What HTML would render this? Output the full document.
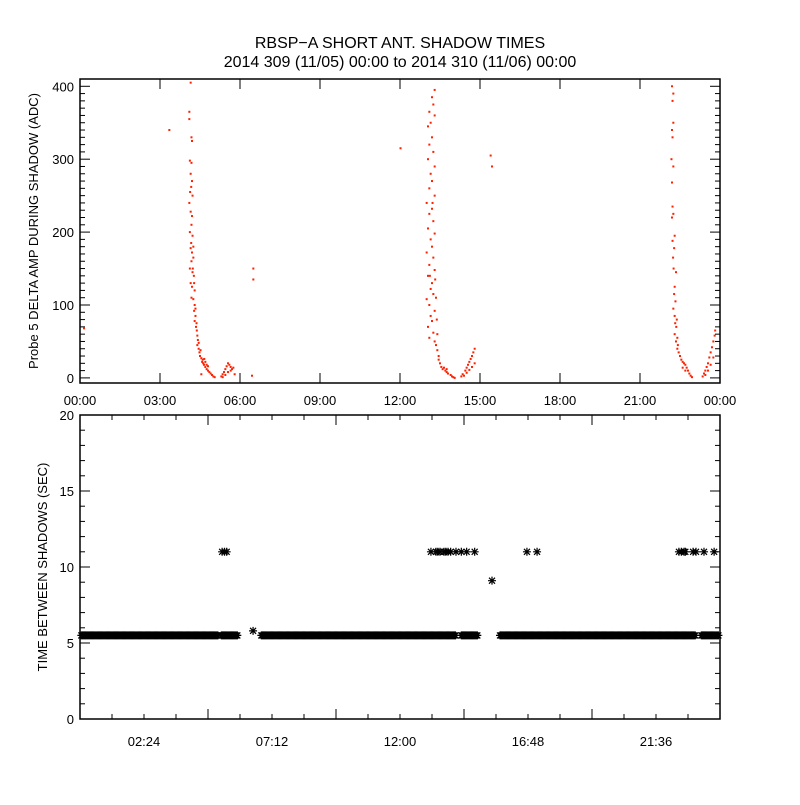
<!DOCTYPE html>
<html><head><meta charset="utf-8"><style>
body{margin:0;background:#fff}
svg text{font-family:"Liberation Sans",sans-serif;fill:#000}
</style></head><body>
<svg id="c" width="800" height="800" xmlns="http://www.w3.org/2000/svg">
<rect width="800" height="800" fill="#fff"/>
<text x="400" y="48" font-size="16" text-anchor="middle">RBSP−A SHORT ANT. SHADOW TIMES</text>
<text x="400" y="67" font-size="16" text-anchor="middle">2014 309 (11/05) 00:00 to 2014 310 (11/06) 00:00</text>
<g id="top"></g>
<g id="bot"></g>
<text transform="translate(38,231) rotate(-90)" font-size="13" text-anchor="middle">Probe 5 DELTA AMP DURING SHADOW (ADC)</text>
<text transform="translate(47,567) rotate(-90)" font-size="13" text-anchor="middle">TIME BETWEEN SHADOWS (SEC)</text>
</svg>
<script>
// top panel data: [hour, ADC]
const ampPoints = [
[0.15,68],[3.35,340],[6.5,150],[6.5,135],[6.45,3],[12.02,315],[15.4,305],[15.45,290],
[4.15,405],[4.1,365],[4.1,355],[4.18,330],[4.2,325],[4.12,298],[4.18,295],[4.15,280],[4.2,270],[4.17,262],[4.13,255],[4.22,250],[4.1,240],[4.15,228],[4.2,222],[4.18,210],[4.12,200],[4.22,195],[4.17,185],[4.15,178],[4.2,172],[4.25,165],[4.18,160],[4.12,150],[4.22,145],[4.27,140],[4.15,130],[4.2,125],[4.3,120],[4.18,110],[4.25,108],[4.3,100],[4.28,92],[4.33,85],[4.3,78],[4.35,70],[4.38,65],[4.4,58],[4.42,52],[4.4,45],[4.45,40],[4.48,35],[4.5,30],[4.55,27],[4.58,22],[4.62,20],[4.65,18],[4.7,15],[4.75,12],[4.8,10],[4.85,8],[4.9,6],[4.95,4],[5.0,2],[5.05,1],[4.6,25],[4.7,22],[4.75,18],[4.55,5],[4.25,180],[4.23,150],[4.28,130],[4.33,95],[4.37,75],[4.45,48],[4.52,38],[4.66,26],[4.8,16],
[5.3,2],[5.35,5],[5.4,8],[5.45,12],[5.5,16],[5.55,20],[5.6,18],[5.65,15],[5.7,12],[5.35,1],[5.45,4],[5.55,8],[5.65,10],[5.75,14],[5.8,5],
[13.3,395],[13.2,385],[13.25,375],[13.1,365],[13.3,360],[13.15,350],[13.05,345],[13.2,330],[13.1,320],[13.25,310],[13.05,300],[13.3,290],[13.15,280],[13.2,270],[13.1,260],[13.3,250],[13.0,240],[13.2,232],[13.1,225],[13.25,215],[13.05,205],[13.3,198],[13.15,190],[13.2,180],[13.0,172],[13.25,165],[13.1,155],[13.3,148],[13.05,140],[13.2,130],[13.15,122],[13.25,115],[13.0,108],[13.1,100],[13.3,92],[13.15,85],[13.2,78],[13.05,70],[13.25,62],[13.1,55],[13.3,50],[13.35,45],[13.4,38],[13.45,30],[13.45,25],[13.5,20],[13.55,15],[13.6,12],[13.7,10],[13.75,8],[13.8,6],[13.9,4],[13.95,2],[14.0,1],[14.05,0],[13.65,14],[13.75,12],[13.35,110],[13.32,135],[13.38,80],[13.4,60],[13.22,240],[13.12,140],
[14.3,2],[14.35,5],[14.45,10],[14.5,14],[14.55,18],[14.6,22],[14.65,26],[14.7,30],[14.75,35],[14.8,40],[14.4,3],[14.5,7],[14.6,11],[14.7,15],[14.8,20],
[22.2,400],[22.25,390],[22.22,380],[22.25,350],[22.2,340],[22.22,330],[22.18,300],[22.25,290],[22.2,268],[22.22,235],[22.25,225],[22.2,220],[22.3,195],[22.22,188],[22.28,178],[22.24,165],[22.26,150],[22.35,145],[22.3,125],[22.28,115],[22.33,105],[22.25,95],[22.3,85],[22.38,80],[22.32,75],[22.36,70],[22.3,60],[22.4,55],[22.35,50],[22.42,45],[22.4,40],[22.45,35],[22.5,30],[22.55,25],[22.6,22],[22.65,20],[22.7,18],[22.75,14],[22.8,10],[22.85,6],[22.9,3],[22.95,1],[22.6,14],[22.7,10],
[23.35,2],[23.4,6],[23.45,10],[23.5,15],[23.55,20],[23.6,28],[23.65,35],[23.7,42],[23.75,50],[23.8,58],[23.82,65],[23.45,4],[23.55,10],[23.65,18],[23.75,28]
];
const topXTicks = ["00:00","03:00","06:00","09:00","12:00","15:00","18:00","21:00","00:00"];
const topYTicks = [0,100,200,300,400];
// bottom panel data
const bandStarts = [0.05,5.3,6.8,14.3,15.75,23.3];
const bandEnds   = [5.2,5.9,14.1,14.9,23.1,23.95];
const bandValue = 5.5;
const gapTimes  = [5.33,5.42,5.5,13.16,13.35,13.42,13.5,13.65,13.72,13.8,13.9,14.1,14.3,14.5,14.8,16.76,17.14,22.46,22.55,22.65,22.7,22.99,23.1,23.4,23.78,15.45,6.49];
const gapValues = [11,11,11,11,11,11,11,11,11,11,11,11,11,11,11,11,11,11,11,11,11,11,11,11,11,9.1,5.8];
const botXTicks = ["02:24","07:12","12:00","16:48","21:36"];
const botYTicks = [0,5,10,15,20];

const NS="http://www.w3.org/2000/svg";
function mk(parent,tag,attrs){const e=document.createElementNS(NS,tag);for(const k in attrs)e.setAttribute(k,attrs[k]);parent.appendChild(e);return e;}
const L=80,R=720;
const xs=h=>L+(h/24)*(R-L);
// top panel
const T=document.getElementById('top');
const tTop=79,tBot=383,tMin=-7,tMax=410;
const ty=v=>tBot-(v-tMin)/(tMax-tMin)*(tBot-tTop);
const frame1=mk(T,'rect',{x:L,y:tTop,width:R-L,height:tBot-tTop,fill:'none',stroke:'#000','stroke-width':1.5});


for(let v=0;v<=400;v+=10){const len=v%100===0?10:5;
 mk(T,'line',{x1:L,y1:ty(v),x2:L+len,y2:ty(v),stroke:'#000'});
 mk(T,'line',{x1:R,y1:ty(v),x2:R-len,y2:ty(v),stroke:'#000'});}
topYTicks.forEach(v=>{const t=mk(T,'text',{x:L-6,y:ty(v)+5,'font-size':13,'text-anchor':'end'});t.textContent=v;
 
 });
topXTicks.forEach((s,i)=>{const x=xs(i*3);
 mk(T,'line',{x1:x,y1:tBot,x2:x,y2:tBot-10,stroke:'#000'});
 mk(T,'line',{x1:x,y1:tTop,x2:x,y2:tTop+10,stroke:'#000'});
 const t=mk(T,'text',{x:x,y:405,'font-size':13,'text-anchor':'middle'});t.textContent=s;
 
 });
ampPoints.forEach(p=>{const r=mk(T,'rect',{x:xs(p[0])-1,y:ty(p[1])-1,width:2,height:2,fill:'#ff2000'});
 
 });
// bottom panel
const B=document.getElementById('bot');
const bTop=415,bBot=719,bMin=0,bMax=20;
const by=v=>bBot-(v-bMin)/(bMax-bMin)*(bBot-bTop);
const frame2=mk(B,'rect',{x:L,y:bTop,width:R-L,height:bBot-bTop,fill:'none',stroke:'#000','stroke-width':1.5});


for(let v=0;v<=20;v++){const len=v%5===0?10:5;
 mk(B,'line',{x1:L,y1:by(v),x2:L+len,y2:by(v),stroke:'#000'});
 mk(B,'line',{x1:R,y1:by(v),x2:R-len,y2:by(v),stroke:'#000'});}
botYTicks.forEach(v=>{const t=mk(B,'text',{x:L-6,y:by(v)+5,'font-size':13,'text-anchor':'end'});t.textContent=v;
 
 });
for(let k=1;k<20;k++){const x=xs(k*1.2);const len=k%4===0?10:5;
 mk(B,'line',{x1:x,y1:bBot,x2:x,y2:bBot-len,stroke:'#000'});
 mk(B,'line',{x1:x,y1:bTop,x2:x,y2:bTop+len,stroke:'#000'});}
botXTicks.forEach((s,i)=>{const x=xs((i*4+2)*1.2);
 const t=mk(B,'text',{x:x,y:746,'font-size':13,'text-anchor':'middle'});t.textContent=s;
 
 });
function star(h,v){const cx=xs(h),cy=by(v),s=4;
 const g=mk(B,'path',{d:`M${cx-s},${cy}H${cx+s}M${cx},${cy-s}V${cy+s}M${cx-3},${cy-3}L${cx+3},${cy+3}M${cx-3},${cy+3}L${cx+3},${cy-3}`,stroke:'#000','stroke-width':1.2,fill:'none'});
 
 }
bandStarts.forEach((s,i)=>{for(let h=s;h<=bandEnds[i]+1e-6;h+=0.04)star(h,bandValue);});
gapTimes.forEach((h,i)=>star(h,gapValues[i]));
</script>
</body></html>
